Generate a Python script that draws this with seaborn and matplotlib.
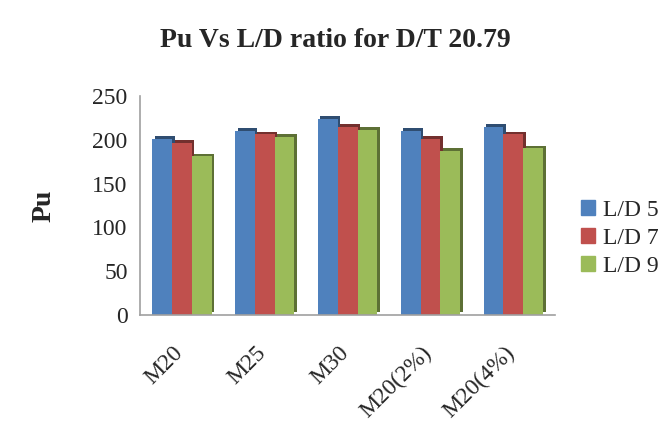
import pandas as pd
import matplotlib.pyplot as plt
import matplotlib.patheffects as pe
import matplotlib.patches as mpatches
import matplotlib.transforms as mtransforms
import seaborn as sns

# Values
mixes = ["M20", "M25", "M30", "M20(2%)", "M20(4%)"]
ld5 = [201, 210, 224, 210, 215]
ld7 = [196, 206, 215, 201, 206]
ld9 = [181, 203, 211, 187, 190]
series = ["L/D 5", "L/D 7", "L/D 9"]
colors = ["#4F81BD", "#C0504D", "#9BBB59"]

df = pd.DataFrame({"Mix": mixes * 3,
                   "Pu": ld5 + ld7 + ld9,
                   "Ratio": [s for s in series for _ in mixes]})

sns.set_style("white")
plt.rcParams["font.family"] = ["Liberation Serif", "DejaVu Serif"]

fig = plt.figure(figsize=(6.71, 4.28), dpi=100)
ax = fig.add_axes([0.209, 0.264, 0.618, 0.512])

sns.barplot(data=df, x="Mix", y="Pu", hue="Ratio", palette=colors,
            width=0.72, saturation=1, ax=ax, edgecolor="none", legend=False)

# fake the Excel 3D look with a dark offset shadow
for bar in ax.patches:
    bar.set_path_effects([pe.SimplePatchShadow(offset=(2, 2), rho=0.6, alpha=1),
                          pe.Normal()])

ax.set_ylim(0, 250)
ax.set_yticks([0, 50, 100, 150, 200, 250])
ax.set_xlim(-0.5, len(mixes) - 0.5)
ax.set_xticks([i - 0.5 for i in range(len(mixes) + 1)], minor=True)
ax.set_xticks(range(len(mixes)))
ax.set_xticklabels(mixes, rotation=45, ha="right", va="top", rotation_mode="anchor")
ax.tick_params(axis="x", which="major", length=0, labelsize=17, pad=20)
ax.tick_params(axis="x", which="minor", length=5, color="#A0A0A0", direction="out")
ax.tick_params(axis="y", length=5, color="#A0A0A0", direction="out", labelsize=17, pad=4)

# nudge the rotated labels a little to the left, as in the original
shift = mtransforms.ScaledTranslation(-0.09, 0, fig.dpi_scale_trans)
for lab in ax.get_xticklabels():
    lab.set_transform(lab.get_transform() + shift)

for side in ["top", "right"]:
    ax.spines[side].set_visible(False)
for side in ["left", "bottom"]:
    ax.spines[side].set_color("#A0A0A0")
    ax.spines[side].set_linewidth(1.2)

ax.set_xlabel("")
ax.set_ylabel("Pu", fontsize=20, fontweight="bold", labelpad=26)
fig.suptitle("Pu Vs L/D ratio for D/T 20.79", fontsize=20, fontweight="bold",
             x=0.5, y=0.935)

handles = [mpatches.Patch(color=c, label=s) for c, s in zip(colors, series)]
ax.legend(handles=handles, loc="center left", bbox_to_anchor=(1.04, 0.35),
          frameon=False, fontsize=17, handlelength=0.6, handleheight=0.6,
          handletextpad=0.35, labelspacing=0.3, borderaxespad=0)

plt.savefig("out.png", dpi=100)
plt.close()
